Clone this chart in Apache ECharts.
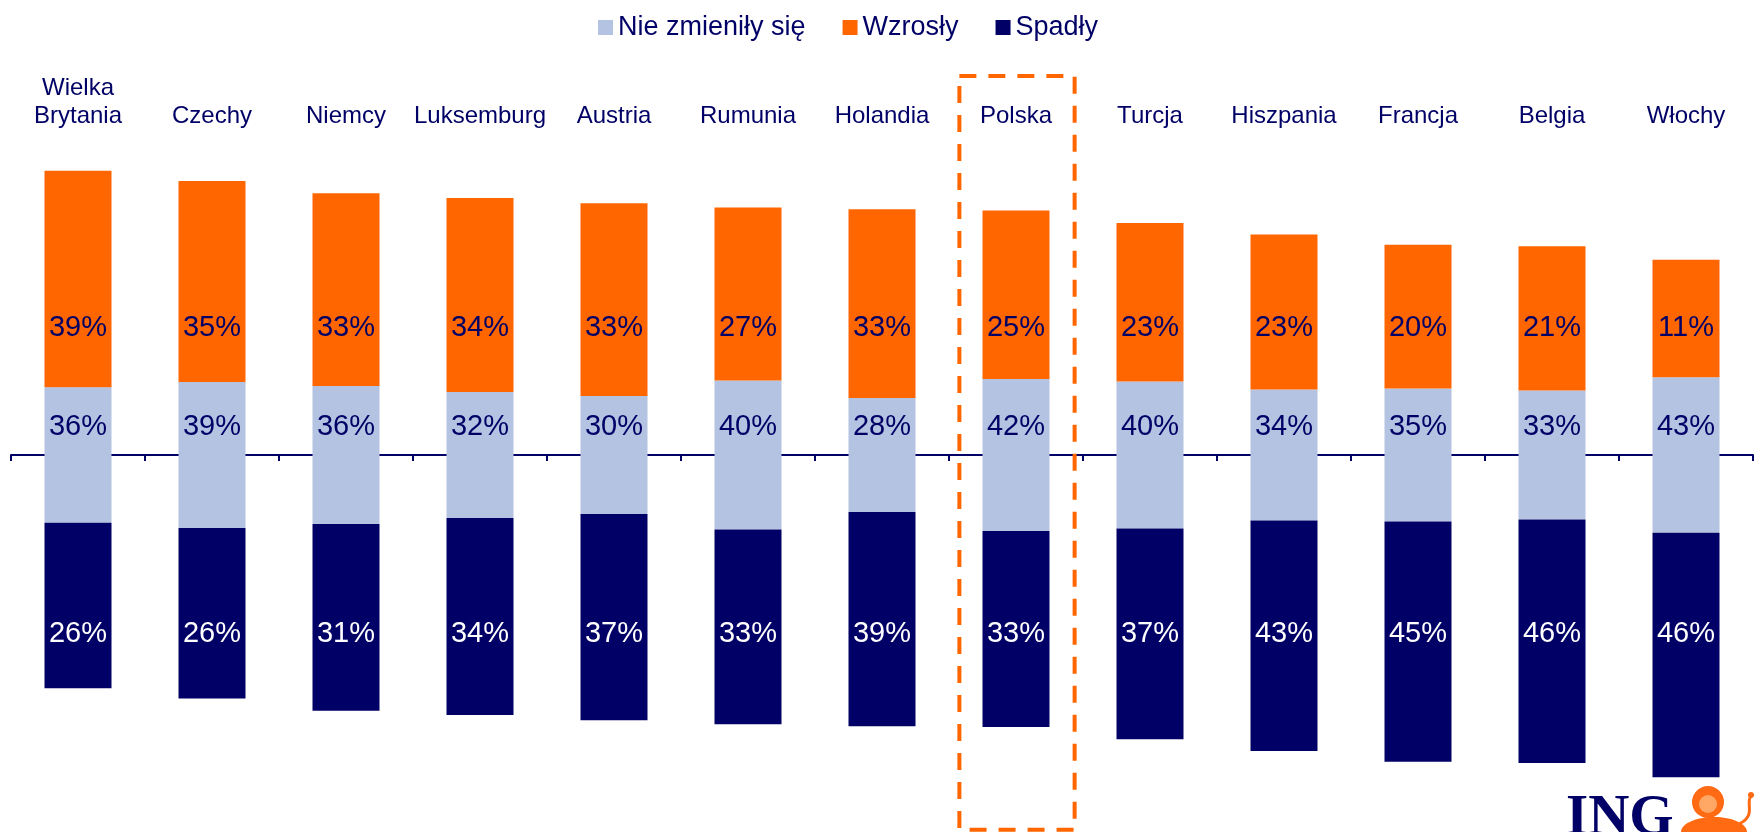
<!DOCTYPE html>
<html>
<head>
<meta charset="utf-8">
<script src="https://cdn.jsdelivr.net/npm/echarts@6/dist/echarts.min.js"></script>
<style>
  html, body { margin: 0; padding: 0; background: #ffffff; }
  #chart { width: 1760px; height: 832px; }
</style>
</head>
<body>
<div id="chart"></div>
<script>
// ---- data ----
const categories = ['Wielka\nBrytania', 'Czechy', 'Niemcy', 'Luksemburg', 'Austria', 'Rumunia', 'Holandia', 'Polska', 'Turcja', 'Hiszpania', 'Francja', 'Belgia', 'Włochy'];
const legendNames = ['Nie zmieniły się', 'Wzrosły', 'Spadły'];
// bar segment heights as drawn (share of full bar)
const wzrosly     = [41.9, 38.9, 37.3, 37.5, 37.3, 33.5, 36.5, 32.6, 30.7, 30.0, 27.8, 27.9, 22.7];
const nieZmienily = [26.2, 28.2, 26.7, 24.4, 22.8, 28.8, 22.1, 29.4, 28.4, 25.3, 25.7, 25.0, 30.1];
const spadly      = [32.0, 33.0, 36.1, 38.1, 39.9, 37.7, 41.4, 37.9, 40.8, 44.6, 46.5, 47.1, 47.3];
// printed labels (%)
const wzroslyLabels     = [39, 35, 33, 34, 33, 27, 33, 25, 23, 23, 20, 21, 11];
const nieZmienilyLabels = [36, 39, 36, 32, 30, 40, 28, 42, 40, 34, 35, 33, 43];
const spadlyLabels      = [26, 26, 31, 34, 37, 33, 39, 33, 37, 43, 45, 46, 46];
const highlighted = 'Polska';

// ---- styles ----
const NAVY = '#000066';
const ORANGE = '#FF6600';
const LIGHT = '#B4C3E1';
const FONT = '"Liberation Sans", Arial, sans-serif';

const ROW_UP = 24.6, ROW_MID = 5.4, ROW_DOWN = -34.6;

const chart = echarts.init(document.getElementById('chart'), null, { renderer: 'canvas' });

function labelSeries(name, arr, row, color) {
  return {
    name: name,
    type: 'scatter',
    xAxisIndex: 0,
    yAxisIndex: 0,
    data: categories.map((c, i) => [i, row]),
    symbolSize: 1,
    itemStyle: { color: 'rgba(0,0,0,0)', opacity: 1 },
    silent: true,
    z: 6,
    label: {
      show: true,
      position: 'inside',
      formatter: p => arr[p.dataIndex] + '%',
      fontSize: 29,
      fontFamily: FONT,
      color: color,
      opacity: 1,
      textBorderWidth: 0
    }
  };
}

const hiIdx = categories.indexOf(highlighted);

const option = {
  animation: false,
  backgroundColor: '#ffffff',
  legend: {
    data: legendNames,
    left: 593,
    top: 9,
    icon: 'rect',
    itemWidth: 15,
    itemHeight: 15,
    itemGap: 37,
    selectedMode: false,
    textStyle: { fontSize: 27, color: NAVY, fontFamily: FONT }
  },
  grid: { left: 11, right: 7, top: 134.5, bottom: 4.8, containLabel: false },
  xAxis: [
    {
      type: 'category',
      data: categories,
      position: 'bottom',
      axisLine: { show: true, onZero: true, lineStyle: { color: NAVY, width: 2 } },
      axisTick: { show: true, interval: 0, length: 6, lineStyle: { color: NAVY, width: 2 } },
      axisLabel: { show: false },
      splitLine: { show: false }
    },
    {
      type: 'category',
      data: categories,
      position: 'top',
      axisLine: { show: false, onZero: false },
      axisTick: { show: false },
      axisLabel: { show: true, interval: 0, margin: 4, fontSize: 24, lineHeight: 28, color: NAVY, fontFamily: FONT },
      splitLine: { show: false }
    }
  ],
  yAxis: {
    type: 'value',
    min: -72,
    max: 62,
    show: false,
    splitLine: { show: false }
  },
  series: [
    { name: 'Nie zmieniły się', type: 'bar', stack: 's', barWidth: '50%', data: nieZmienily.map(v => v / 2), itemStyle: { color: LIGHT } },
    { name: 'Wzrosły', type: 'bar', stack: 's', barWidth: '50%', data: wzrosly, itemStyle: { color: ORANGE } },
    { name: 'Nie zmieniły się', type: 'bar', stack: 's', barWidth: '50%', data: nieZmienily.map(v => -v / 2), itemStyle: { color: LIGHT } },
    { name: 'Spadły', type: 'bar', stack: 's', barWidth: '50%', data: spadly.map(v => -v), itemStyle: { color: NAVY } },
    labelSeries('lab-up', wzroslyLabels, ROW_UP, NAVY),
    labelSeries('lab-mid', nieZmienilyLabels, ROW_MID, NAVY),
    labelSeries('lab-down', spadlyLabels, ROW_DOWN, '#ffffff'),
    {
      name: 'highlight',
      type: 'custom',
      xAxisIndex: 0,
      yAxisIndex: 0,
      clip: false,
      silent: true,
      z: 10,
      data: [[hiIdx, 73.3, -72.5]],
      renderItem: function (params, api) {
        const t = api.coord([api.value(0), api.value(1)]);
        const b = api.coord([api.value(0), api.value(2)]);
        const w = api.size([1, 0])[0] * 0.86;
        return {
          type: 'rect',
          shape: { x: t[0] - w / 2 + 1, y: t[1], width: w, height: b[1] - t[1] },
          style: { fill: 'none', stroke: ORANGE, lineWidth: 4, lineDash: [17, 12] }
        };
      }
    }
  ],
  graphic: [
    {
      type: 'text',
      left: 1566,
      top: 791,
      style: { text: 'ING', font: 'bold 57px "Liberation Serif", "Times New Roman", serif', fill: NAVY }
    },
    {
      type: 'group',
      left: 1681,
      top: 786,
      children: [
        { type: 'ellipse', shape: { cx: 35, cy: 46, rx: 33, ry: 15 }, style: { fill: '#FF6A13' } },
        { type: 'circle', shape: { cx: 29, cy: 16, r: 16 }, style: { fill: '#FF6A13' } },
        { type: 'circle', shape: { cx: 29, cy: 18, r: 9 }, style: { fill: '#FFA764' } },
        { type: 'bezierCurve', shape: { x1: 60, y1: 38, x2: 72, y2: 10, cpx1: 78, cpy1: 30, cpx2: 66, cpy2: 16 }, style: { stroke: '#FF6A13', lineWidth: 3, fill: 'none' } },
        { type: 'circle', shape: { cx: 72, cy: 9, r: 3 }, style: { fill: '#FF6A13' } }
      ]
    }
  ]
};

chart.setOption(option);
</script>
</body>
</html>
